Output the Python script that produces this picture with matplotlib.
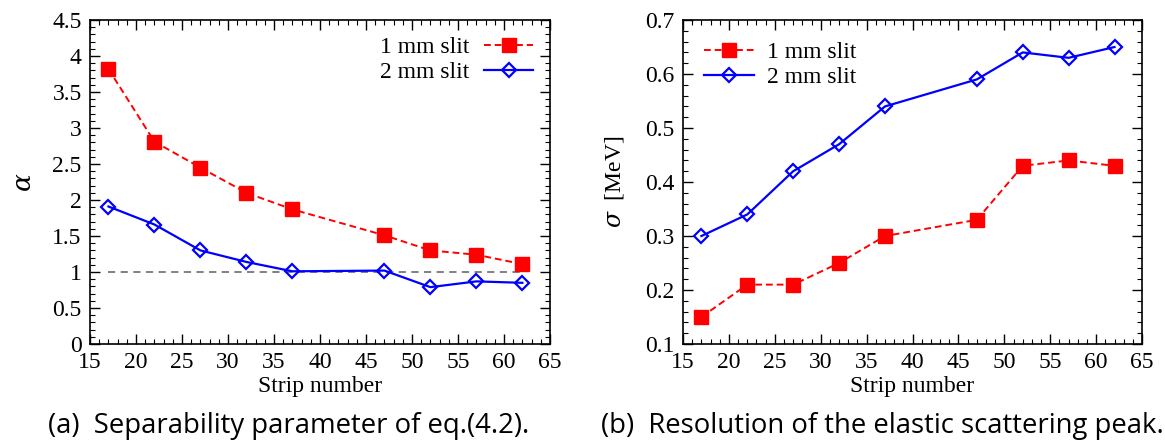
import matplotlib
matplotlib.use("Agg")
import matplotlib.pyplot as plt
from matplotlib.ticker import MultipleLocator

strips = [17, 22, 27, 32, 37, 47, 52, 57, 62]

# separability parameter alpha
alpha_1mm = [3.82, 2.81, 2.45, 2.10, 1.87, 1.51, 1.30, 1.24, 1.11]
alpha_2mm = [1.91, 1.66, 1.30, 1.14, 1.01, 1.02, 0.79, 0.87, 0.85]

# resolution of the elastic peak, MeV
sigma_1mm = [0.15, 0.21, 0.21, 0.25, 0.30, 0.33, 0.43, 0.44, 0.43]
sigma_2mm = [0.30, 0.34, 0.42, 0.47, 0.54, 0.59, 0.64, 0.63, 0.65]

labels = ["1 mm slit", "2 mm slit"]
captions = ["(a)  Separability parameter of eq.(4.2).",
            "(b)  Resolution of the elastic scattering peak."]

SERIF = "Liberation Serif"
plt.rcParams["font.family"] = SERIF
plt.rcParams["mathtext.fontset"] = "dejavuserif"

fig = plt.figure(figsize=(11.65, 4.48), dpi=100)
ax1 = fig.add_axes([0.0773, 0.2321, 0.3948, 0.7232])
ax2 = fig.add_axes([0.5863, 0.2321, 0.3940, 0.7232])


def draw(ax, y1, y2):
    ax.plot(strips, y1, color="#ff0000", ls=(0, (3.5, 2)), lw=1.4,
            marker="s", ms=9.5, mfc="#ff0000", mec="#ff0000", label=labels[0])
    ax.plot(strips, y2, color="#0000ff", ls="-", lw=1.6,
            marker="D", ms=7, mfc="none", mec="#0000ff", mew=1.6, label=labels[1])
    ax.set_xlim(15, 65)
    ax.xaxis.set_major_locator(MultipleLocator(5))
    ax.xaxis.set_minor_locator(MultipleLocator(1))
    ax.tick_params(which="both", direction="in", top=True, right=True,
                   labelsize=17, pad=6)
    ax.tick_params(which="major", length=7, width=1)
    ax.tick_params(which="minor", length=3.5, width=0.8)
    ax.set_xlabel("Strip number", fontsize=17, labelpad=2)
    for s in ax.spines.values():
        s.set_linewidth(1.2)


draw(ax1, alpha_1mm, alpha_2mm)
ax1.plot([strips[0], strips[-1]], [1, 1], color="#777777", ls=(0, (4, 3)), lw=1.3, zorder=1)
ax1.set_ylim(0, 4.5)
ax1.yaxis.set_major_locator(MultipleLocator(0.5))
ax1.yaxis.set_minor_locator(MultipleLocator(0.1))
ax1.set_yticks([0, 0.5, 1, 1.5, 2, 2.5, 3, 3.5, 4, 4.5],
               ["0", "0.5", "1", "1.5", "2", "2.5", "3", "3.5", "4", "4.5"])
ax1.set_ylabel(r"$\alpha$", fontsize=19, labelpad=12)
ax1.legend(loc="upper right", markerfirst=False, frameon=False, fontsize=17,
           handlelength=2.1, handletextpad=0.6, labelspacing=0.15,
           borderaxespad=0.4, borderpad=0.3)

draw(ax2, sigma_1mm, sigma_2mm)
ax2.set_ylim(0.1, 0.7)
ax2.yaxis.set_major_locator(MultipleLocator(0.1))
ax2.yaxis.set_minor_locator(MultipleLocator(0.02))
ax2.set_yticks([0.1, 0.2, 0.3, 0.4, 0.5, 0.6, 0.7],
               ["0.1", "0.2", "0.3", "0.4", "0.5", "0.6", "0.7"])
ax2.set_ylabel(r"$\sigma$  [MeV]", fontsize=17, labelpad=14)
ax2.legend(loc="upper left", markerfirst=True, frameon=False, fontsize=17,
           handlelength=2.1, handletextpad=0.55, labelspacing=0.15,
           borderaxespad=0.6, borderpad=0.3)

fig.text(0.248, 0.050, captions[0], ha="center", va="center",
         fontsize=19.8, family="Open Sans")
fig.text(0.757, 0.050, captions[1], ha="center", va="center",
         fontsize=19.8, family="Open Sans")

fig.savefig("out.png", dpi=100)
